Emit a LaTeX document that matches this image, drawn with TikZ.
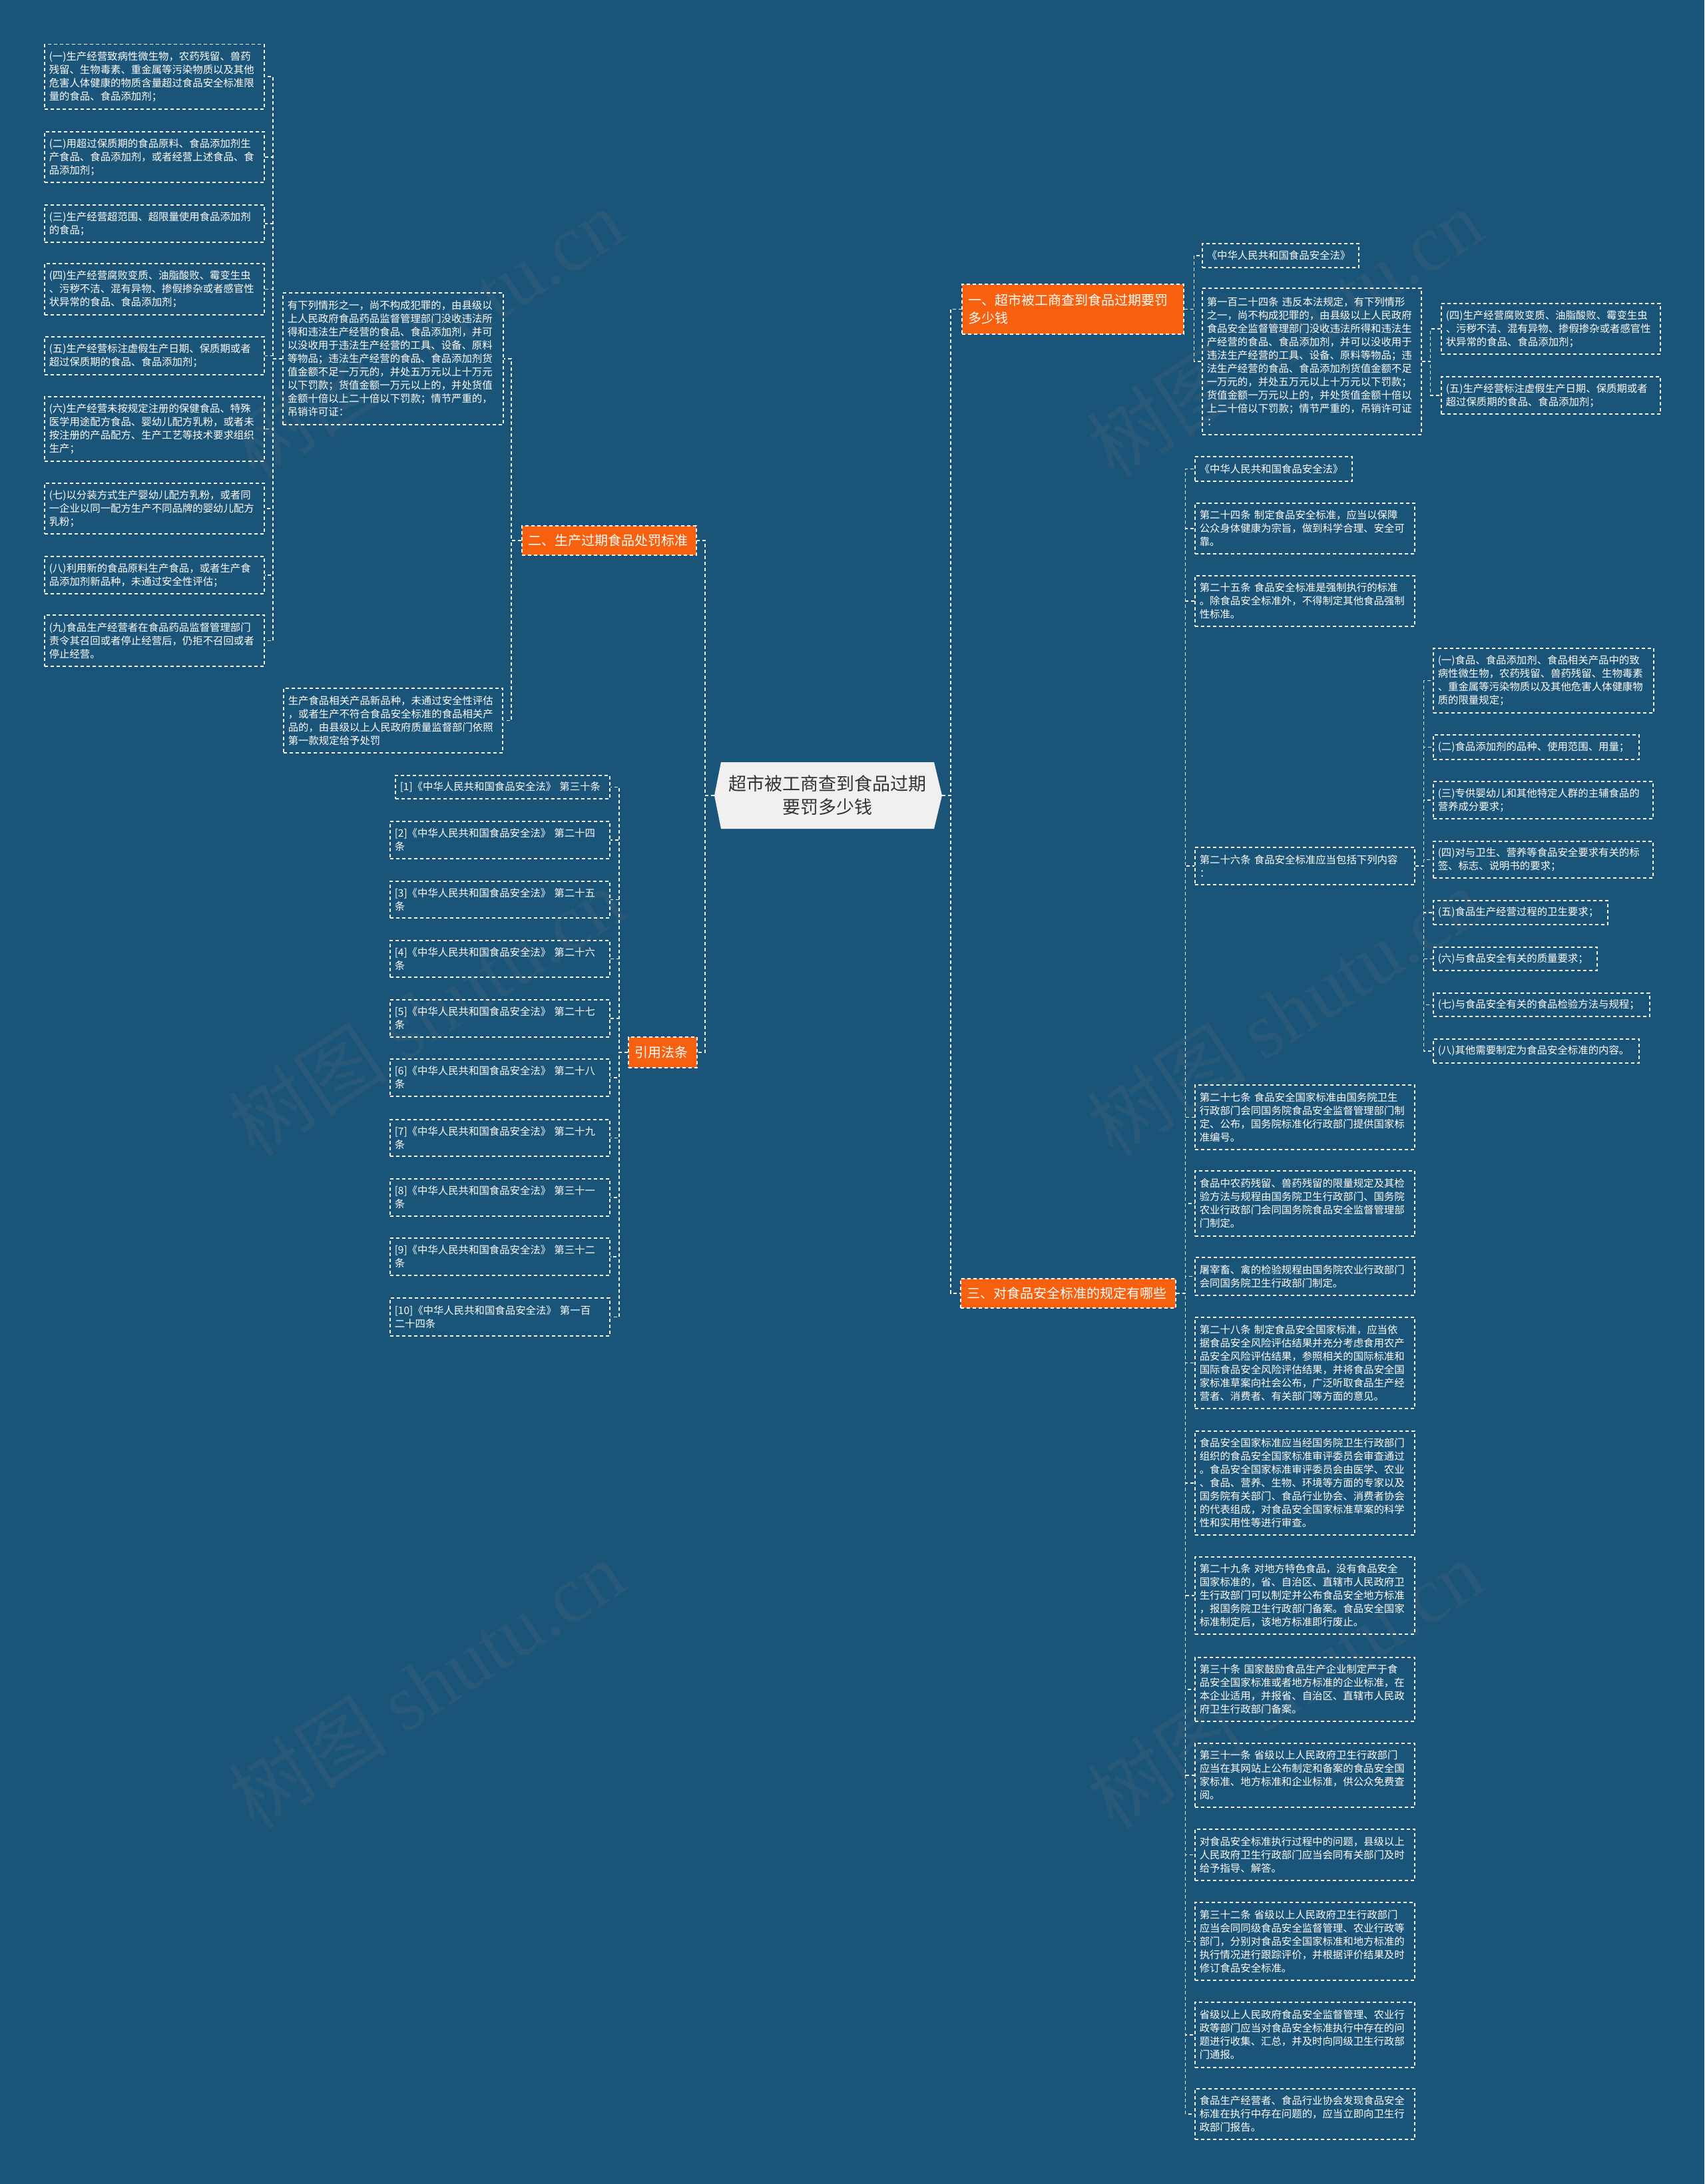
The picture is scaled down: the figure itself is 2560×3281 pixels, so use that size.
\documentclass[tikz,border=0pt]{standalone}
\usepackage{fontspec}
\setmainfont{Noto Sans CJK SC}
\newfontfamily\wmlat{Liberation Serif}
\usetikzlibrary{calc}
\definecolor{bg}{RGB}{27,84,121}
\definecolor{org}{RGB}{246,96,14}
\definecolor{cfill}{RGB}{240,240,240}
\definecolor{ctext}{RGB}{51,51,51}
\tikzset{
  conn/.style={draw=white, line width=1.5pt, dash pattern=on 5pt off 4pt},
  leaf/.style={draw=white, line width=1.5pt, dash pattern=on 5pt off 4pt, text=white, anchor=north west, align=left, inner xsep=7pt, inner ysep=0pt, font=\fontsize{15.4}{20}\selectfont},
  branch/.style={fill=org, draw=white, line width=1.5pt, dash pattern=on 5pt off 4pt, text=white, anchor=north west, align=left, inner xsep=10pt, inner ysep=0pt, font=\fontsize{20}{27}\selectfont},
  wm/.style={text=gray, opacity=0.13, rotate=33, font=\fontsize{120}{120}\selectfont}
}
\newcommand\leafbox[6]{\node[leaf, text width=#4pt, minimum height=#5pt] (#1) at (#2,#3) {#6};}
\begin{document}
\begin{tikzpicture}[x=1pt,y=-1pt]
\fill[bg] (0,0) rectangle (2560,3281);
\useasboundingbox (0,0) rectangle (2560,3281);
% watermarks
\node[wm] (w1) at (640,500) {树图 {\wmlat shutu.cn}};
\node[wm] (w2) at (1930,500) {树图 {\wmlat shutu.cn}};
\node[wm] (w3) at (640,1520) {树图 {\wmlat shutu.cn}};
\node[wm] (w4) at (1930,1520) {树图 {\wmlat shutu.cn}};
\node[wm] (w5) at (640,2530) {树图 {\wmlat shutu.cn}};
\node[wm] (w6) at (1930,2530) {树图 {\wmlat shutu.cn}};
% center
\fill[cfill] (1073,1195) -- (1083,1145) -- (1403,1145) -- (1415,1195) -- (1403,1245) -- (1083,1245) -- cycle;
\node[font=\fontsize{27}{35}\selectfont, text=ctext, align=center, minimum width=320pt, minimum height=100pt, inner sep=0pt] (c) at (1243,1195) {超市被工商查到食品过期\\要罚多少钱};
\coordinate (cL) at ($(c.west)+(-10,0)$);
\coordinate (cR) at ($(c.east)+(12,0)$);
% branches
\node[branch, text width=313pt, minimum height=75pt] (b1) at (1444,426) {一、超市被工商查到食品过期要罚\\多少钱};
\node[branch, text width=242pt, minimum height=44pt] (b2) at (783,789) {二、生产过期食品处罚标准};
\node[branch, text width=83pt, minimum height=46pt] (b3) at (943,1557) {引用法条};
\node[branch, text width=303pt, minimum height=44pt] (b4) at (1442,1920) {三、对食品安全标准的规定有哪些};
% left column
\leafbox{l1}{66}{66}{316}{97}{(一)生产经营致病性微生物，农药残留、兽药\\残留、生物毒素、重金属等污染物质以及其他\\危害人体健康的物质含量超过食品安全标准限\\量的食品、食品添加剂；}
\leafbox{l2}{66}{197}{316}{76}{(二)用超过保质期的食品原料、食品添加剂生\\产食品、食品添加剂，或者经营上述食品、食\\品添加剂；}
\leafbox{l3}{66}{307}{316}{56}{(三)生产经营超范围、超限量使用食品添加剂\\的食品；}
\leafbox{l4}{66}{395}{316}{77}{(四)生产经营腐败变质、油脂酸败、霉变生虫\\、污秽不洁、混有异物、掺假掺杂或者感官性\\状异常的食品、食品添加剂；}
\leafbox{l5}{66}{505}{316}{57}{(五)生产经营标注虚假生产日期、保质期或者\\超过保质期的食品、食品添加剂；}
\leafbox{l6}{66}{595}{316}{97}{(六)生产经营未按规定注册的保健食品、特殊\\医学用途配方食品、婴幼儿配方乳粉，或者未\\按注册的产品配方、生产工艺等技术要求组织\\生产；}
\leafbox{l7}{66}{725}{316}{76}{(七)以分装方式生产婴幼儿配方乳粉，或者同\\一企业以同一配方生产不同品牌的婴幼儿配方\\乳粉；}
\leafbox{l8}{66}{835}{316}{56}{(八)利用新的食品原料生产食品，或者生产食\\品添加剂新品种，未通过安全性评估；}
\leafbox{l9}{66}{923}{316}{77}{(九)食品生产经营者在食品药品监督管理部门\\责令其召回或者停止经营后，仍拒不召回或者\\停止经营。}
\leafbox{ba}{424}{439}{317}{198}{有下列情形之一，尚不构成犯罪的，由县级以\\上人民政府食品药品监督管理部门没收违法所\\得和违法生产经营的食品、食品添加剂，并可\\以没收用于违法生产经营的工具、设备、原料\\等物品；违法生产经营的食品、食品添加剂货\\值金额不足一万元的，并处五万元以上十万元\\以下罚款；货值金额一万元以上的，并处货值\\金额十倍以上二十倍以下罚款；情节严重的，\\吊销许可证：}
\leafbox{bb}{425}{1033}{315}{97}{生产食品相关产品新品种，未通过安全性评估\\，或者生产不符合食品安全标准的食品相关产\\品的，由县级以上人民政府质量监督部门依照\\第一款规定给予处罚}
% citations
\leafbox{c1}{593}{1164}{308}{35}{[1]《中华人民共和国食品安全法》 第三十条}
\leafbox{c2}{585}{1233}{316}{56}{[2]《中华人民共和国食品安全法》 第二十四\\条}
\leafbox{c3}{585}{1323}{316}{55}{[3]《中华人民共和国食品安全法》 第二十五\\条}
\leafbox{c4}{585}{1412}{316}{55}{[4]《中华人民共和国食品安全法》 第二十六\\条}
\leafbox{c5}{585}{1501}{316}{56}{[5]《中华人民共和国食品安全法》 第二十七\\条}
\leafbox{c6}{585}{1590}{316}{56}{[6]《中华人民共和国食品安全法》 第二十八\\条}
\leafbox{c7}{585}{1681}{316}{55}{[7]《中华人民共和国食品安全法》 第二十九\\条}
\leafbox{c8}{585}{1770}{316}{56}{[8]《中华人民共和国食品安全法》 第三十一\\条}
\leafbox{c9}{585}{1859}{316}{56}{[9]《中华人民共和国食品安全法》 第三十二\\条}
\leafbox{c10}{585}{1949}{316}{57}{[10]《中华人民共和国食品安全法》 第一百\\二十四条}
% branch 1 children
\leafbox{ra}{1805}{365}{221}{36}{《中华人民共和国食品安全法》}
\leafbox{rb}{1805}{432}{315}{220}{第一百二十四条 违反本法规定，有下列情形\\之一，尚不构成犯罪的，由县级以上人民政府\\食品安全监督管理部门没收违法所得和违法生\\产经营的食品、食品添加剂，并可以没收用于\\违法生产经营的工具、设备、原料等物品；违\\法生产经营的食品、食品添加剂货值金额不足\\一万元的，并处五万元以上十万元以下罚款；\\货值金额一万元以上的，并处货值金额十倍以\\上二十倍以下罚款；情节严重的，吊销许可证\\：}
\leafbox{r4}{2164}{455}{315}{76}{(四)生产经营腐败变质、油脂酸败、霉变生虫\\、污秽不洁、混有异物、掺假掺杂或者感官性\\状异常的食品、食品添加剂；}
\leafbox{r5}{2164}{565}{315}{56}{(五)生产经营标注虚假生产日期、保质期或者\\超过保质期的食品、食品添加剂；}
% branch 3 children
\leafbox{d1}{1794}{685}{222}{37}{《中华人民共和国食品安全法》}
\leafbox{d2}{1794}{755}{316}{76}{第二十四条 制定食品安全标准，应当以保障\\公众身体健康为宗旨，做到科学合理、安全可\\靠。}
\leafbox{d3}{1794}{864}{316}{76}{第二十五条 食品安全标准是强制执行的标准\\。除食品安全标准外，不得制定其他食品强制\\性标准。}
\leafbox{d4}{1794}{1272}{316}{56}{第二十六条 食品安全标准应当包括下列内容\\：}
\leafbox{d5}{1794}{1629}{316}{97}{第二十七条 食品安全国家标准由国务院卫生\\行政部门会同国务院食品安全监督管理部门制\\定、公布，国务院标准化行政部门提供国家标\\准编号。}
\leafbox{d6}{1794}{1758}{316}{98}{食品中农药残留、兽药残留的限量规定及其检\\验方法与规程由国务院卫生行政部门、国务院\\农业行政部门会同国务院食品安全监督管理部\\门制定。}
\leafbox{d7}{1794}{1888}{316}{57}{屠宰畜、禽的检验规程由国务院农业行政部门\\会同国务院卫生行政部门制定。}
\leafbox{d8}{1794}{1978}{316}{137}{第二十八条 制定食品安全国家标准，应当依\\据食品安全风险评估结果并充分考虑食用农产\\品安全风险评估结果，参照相关的国际标准和\\国际食品安全风险评估结果，并将食品安全国\\家标准草案向社会公布，广泛听取食品生产经\\营者、消费者、有关部门等方面的意见。}
\leafbox{d9}{1794}{2149}{316}{156}{食品安全国家标准应当经国务院卫生行政部门\\组织的食品安全国家标准审评委员会审查通过\\。食品安全国家标准审评委员会由医学、农业\\、食品、营养、生物、环境等方面的专家以及\\国务院有关部门、食品行业协会、消费者协会\\的代表组成，对食品安全国家标准草案的科学\\性和实用性等进行审查。}
\leafbox{d10}{1794}{2338}{316}{116}{第二十九条 对地方特色食品，没有食品安全\\国家标准的，省、自治区、直辖市人民政府卫\\生行政部门可以制定并公布食品安全地方标准\\，报国务院卫生行政部门备案。食品安全国家\\标准制定后，该地方标准即行废止。}
\leafbox{d11}{1794}{2489}{316}{96}{第三十条 国家鼓励食品生产企业制定严于食\\品安全国家标准或者地方标准的企业标准，在\\本企业适用，并报省、自治区、直辖市人民政\\府卫生行政部门备案。}
\leafbox{d12}{1794}{2618}{316}{96}{第三十一条 省级以上人民政府卫生行政部门\\应当在其网站上公布制定和备案的食品安全国\\家标准、地方标准和企业标准，供公众免费查\\阅。}
\leafbox{d13}{1794}{2747}{316}{77}{对食品安全标准执行过程中的问题，县级以上\\人民政府卫生行政部门应当会同有关部门及时\\给予指导、解答。}
\leafbox{d14}{1794}{2857}{316}{117}{第三十二条 省级以上人民政府卫生行政部门\\应当会同同级食品安全监督管理、农业行政等\\部门，分别对食品安全国家标准和地方标准的\\执行情况进行跟踪评价，并根据评价结果及时\\修订食品安全标准。}
\leafbox{d15}{1794}{3007}{316}{98}{省级以上人民政府食品安全监督管理、农业行\\政等部门应当对食品安全标准执行中存在的问\\题进行收集、汇总，并及时向同级卫生行政部\\门通报。}
\leafbox{d16}{1794}{3137}{316}{76}{食品生产经营者、食品行业协会发现食品安全\\标准在执行中存在问题的，应当立即向卫生行\\政部门报告。}
% article 26 children
\leafbox{s1}{2152}{973}{317}{97}{(一)食品、食品添加剂、食品相关产品中的致\\病性微生物，农药残留、兽药残留、生物毒素\\、重金属等污染物质以及其他危害人体健康物\\质的限量规定；}
\leafbox{s2}{2152}{1103}{295}{37}{(二)食品添加剂的品种、使用范围、用量；}
\leafbox{s3}{2152}{1173}{316}{56}{(三)专供婴幼儿和其他特定人群的主辅食品的\\营养成分要求；}
\leafbox{s4}{2152}{1263}{316}{55}{(四)对与卫生、营养等食品安全要求有关的标\\签、标志、说明书的要求；}
\leafbox{s5}{2152}{1352}{248}{36}{(五)食品生产经营过程的卫生要求；}
\leafbox{s6}{2152}{1422}{232}{35}{(六)与食品安全有关的质量要求；}
\leafbox{s7}{2152}{1491}{311}{35}{(七)与食品安全有关的食品检验方法与规程；}
\leafbox{s8}{2152}{1560}{295}{36}{(八)其他需要制定为食品安全标准的内容。}
% connectors
\draw[conn] (cR) -- ++(13,0) |- (b1.west);
\draw[conn] (cR) -- ++(13,0) |- (b4.west);
\draw[conn] (cL) -- ++(-14,0) |- (b2.east);
\draw[conn] (cL) -- ++(-14,0) |- (b3.east);
\foreach \t in {ba,bb} \draw[conn] (b2.west) -- ++(-15,0) |- (\t.east);
\foreach \t in {l1,l2,l3,l4,l5,l6,l7,l8,l9} \draw[conn] (ba.west) -- ++(-14,0) |- (\t.east);
\foreach \t in {c1,c2,c3,c4,c5,c6,c7,c8,c9,c10} \draw[conn] (b3.west) -- ++(-13,0) |- (\t.east);
\foreach \t in {ra,rb} \draw[conn] (b1.east) -- ++(15,0) |- (\t.west);
\foreach \t in {r4,r5} \draw[conn] (rb.east) -- ++(13,0) |- (\t.west);
\foreach \t in {d1,d2,d3,d4,d5,d6,d7,d8,d9,d10,d11,d12,d13,d14,d15,d16} \draw[conn] (b4.east) -- ++(14,0) |- (\t.west);
\foreach \t in {s1,s2,s3,s4,s5,s6,s7,s8} \draw[conn] (d4.east) -- ++(13,0) |- (\t.west);
\end{tikzpicture}
\end{document}
